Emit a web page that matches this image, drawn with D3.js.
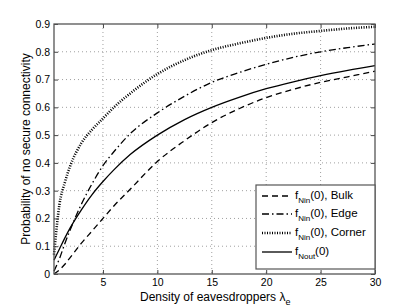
<!DOCTYPE html>
<html>
<head>
<meta charset="utf-8">
<script src="https://cdn.jsdelivr.net/npm/d3@7"></script>
<style>
  body { margin: 0; background: #fff; }
  text, tspan { font-family: "Liberation Sans", Arial, sans-serif; fill: #000; }
</style>
</head>
<body>
<svg id="chart" width="415" height="308"></svg>
<script>
// values
const lambdaE = [0.5, 1, 1.5, 2, 3, 4, 5, 6, 7.5, 10, 12.5, 15, 17.5, 20, 22.5, 25, 27.5, 30];
const bulk   = [0.0, 0.015, 0.035, 0.06, 0.11, 0.155, 0.2, 0.245, 0.305, 0.405, 0.48, 0.545, 0.595, 0.635, 0.665, 0.69, 0.71, 0.73];
const edge   = [0.01, 0.055, 0.11, 0.16, 0.25, 0.325, 0.39, 0.44, 0.505, 0.58, 0.64, 0.69, 0.725, 0.755, 0.78, 0.80, 0.815, 0.828];
const corner = [0.07, 0.25, 0.33, 0.39, 0.47, 0.52, 0.56, 0.6, 0.65, 0.72, 0.77, 0.806, 0.83, 0.85, 0.865, 0.875, 0.884, 0.89];
const nout   = [0.05, 0.09, 0.13, 0.167, 0.23, 0.286, 0.333, 0.375, 0.43, 0.5, 0.556, 0.6, 0.636, 0.667, 0.692, 0.714, 0.733, 0.75];

const xTicks = [5, 10, 15, 20, 25, 30];
const yTicks = [0, 0.1, 0.2, 0.3, 0.4, 0.5, 0.6, 0.7, 0.8, 0.9];

const series = [
  { name: "Bulk",   sub: "Nin",  label: "(0), Bulk",   values: bulk,   dash: "6,4",        width: 1.3 },
  { name: "Edge",   sub: "Nin",  label: "(0), Edge",   values: edge,   dash: "7,3,1.5,3",  width: 1.3 },
  { name: "Corner", sub: "Nin",  label: "(0), Corner", values: corner, dash: "1,1.5",      width: 2.6 },
  { name: "Nout",   sub: "Nout", label: "(0)",         values: nout,   dash: null,         width: 1.3 }
];

let margin = { top: 24, right: 40, bottom: 34, left: 54 },
    width = 415 - margin.left - margin.right,
    height = 308 - margin.top - margin.bottom;

let svg = d3.select("#chart");
let chart = svg.append("g")
    .attr("transform", "translate(" + margin.left + "," + margin.top + ")");

let xScale = d3.scaleLinear().domain([0.5, 30]).range([0, width]);
let yScale = d3.scaleLinear().domain([0, 0.9]).range([height, 0]);

// grid
chart.append("g").selectAll("line")
    .data(xTicks.filter(d => d < 30))
    .join("line")
    .attr("x1", d => xScale(d)).attr("x2", d => xScale(d))
    .attr("y1", 0).attr("y2", height)
    .attr("stroke", "#888").attr("stroke-width", 0.8)
    .attr("stroke-dasharray", "1,3");
chart.append("g").selectAll("line")
    .data(yTicks.filter(d => d > 0 && d < 0.9))
    .join("line")
    .attr("x1", 0).attr("x2", width)
    .attr("y1", d => yScale(d)).attr("y2", d => yScale(d))
    .attr("stroke", "#888").attr("stroke-width", 0.8)
    .attr("stroke-dasharray", "1,3");

// curves
let line = d3.line()
    .x((d, i) => xScale(lambdaE[i]))
    .y(d => yScale(d))
    .curve(d3.curveMonotoneX);

chart.selectAll(".curve")
    .data(series)
    .join("path")
    .attr("class", "curve")
    .attr("d", d => line(d.values))
    .attr("fill", "none")
    .attr("stroke", "#000")
    .attr("stroke-width", d => d.width)
    .attr("stroke-dasharray", d => d.dash);

// axes (ticks inside, MATLAB style)
function styleAxis(g) {
  g.select(".domain").remove();
  g.selectAll(".tick line").attr("stroke", "#444");
  g.selectAll(".tick text").style("font-size", "10.5px").attr("fill", "#000");
}
chart.append("g")
    .attr("transform", "translate(0," + height + ")")
    .call(d3.axisBottom(xScale).tickValues(xTicks).tickSize(-4).tickPadding(5).tickFormat(d3.format("d")))
    .call(styleAxis);
chart.append("g")
    .call(d3.axisLeft(yScale).tickValues(yTicks).tickSize(-4).tickPadding(4).tickFormat(d => d === 0 ? "0" : d3.format(".1f")(d)))
    .call(styleAxis);
chart.append("g")
    .call(d3.axisTop(xScale).tickValues(xTicks).tickSize(-4).tickFormat(""))
    .call(styleAxis);
chart.append("g")
    .attr("transform", "translate(" + width + ",0)")
    .call(d3.axisRight(yScale).tickValues(yTicks).tickSize(-4).tickFormat(""))
    .call(styleAxis);

chart.append("rect")
    .attr("width", width).attr("height", height)
    .attr("fill", "none").attr("stroke", "#555").attr("stroke-width", 1.3);

// axis labels
let xLabel = svg.append("text")
    .attr("x", 140).attr("y", 301)
    .style("font-size", "12px");
xLabel.append("tspan").text("Density of eavesdroppers \u03bb");
xLabel.append("tspan").attr("dy", 4).style("font-size", "9px").text("e");

svg.append("text")
    .attr("transform", "translate(30," + (margin.top + height / 2) + ") rotate(-90)")
    .attr("text-anchor", "middle")
    .style("font-size", "12px")
    .text("Probability of no secure connectivity");

// legend
let legend = svg.append("g").attr("transform", "translate(256,185)");
legend.append("rect")
    .attr("width", 119).attr("height", 84)
    .attr("fill", "#fff").attr("stroke", "#555").attr("stroke-width", 1.2);

let rows = legend.selectAll(".row")
    .data(series)
    .join("g")
    .attr("class", "row")
    .attr("transform", (d, i) => "translate(0," + [11, 29, 48, 67][i] + ")");
rows.append("line")
    .attr("x1", 6).attr("x2", 36)
    .attr("stroke", "#000")
    .attr("stroke-width", d => d.width)
    .attr("stroke-dasharray", d => d.dash);
let lt = rows.append("text")
    .attr("x", 39).attr("y", 3)
    .style("font-size", "11.5px");
lt.append("tspan").text("f");
lt.append("tspan").attr("dy", 4).style("font-size", "8px").text(d => d.sub);
lt.append("tspan").attr("dy", -4).text(d => d.label);
</script>
</body>
</html>
